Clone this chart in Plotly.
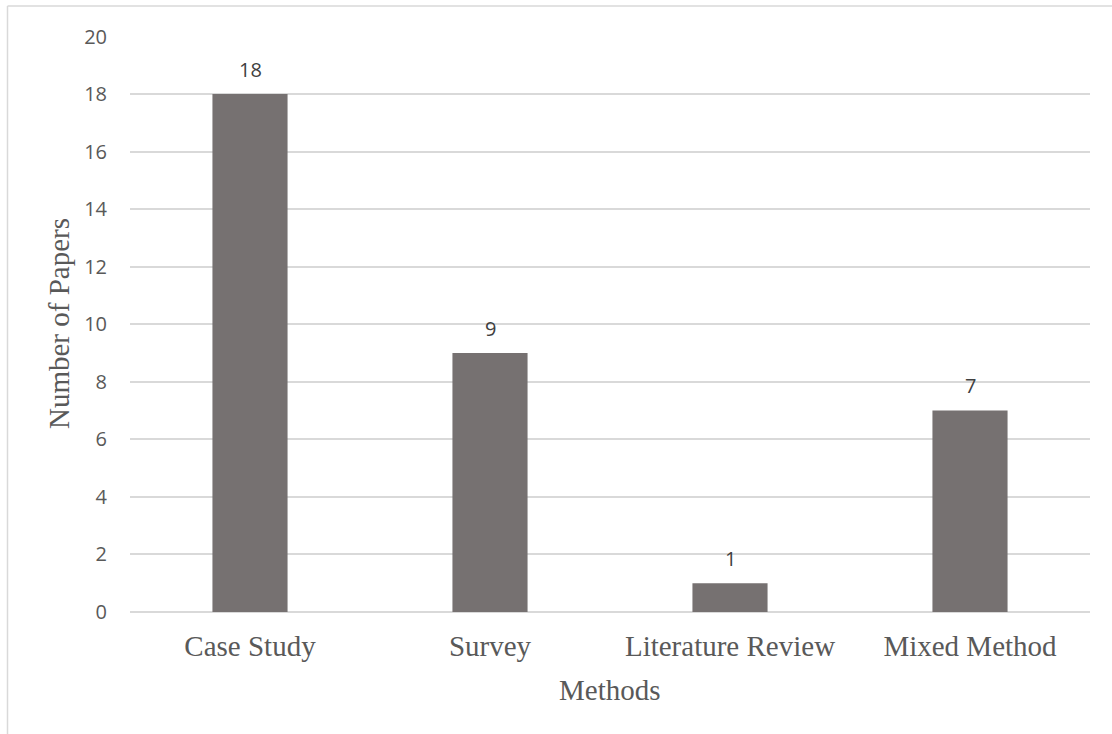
import plotly.graph_objects as go

methods = ["Case Study", "Survey", "Literature Review", "Mixed Method"]
papers = [18, 9, 1, 7]
y_ticks = list(range(0, 21, 2))

W, H = 1112, 734
L, R, T, B = 130, 22, 36, 122
pw, ph = W - L - R, H - T - B

SERIF = "Liberation Serif"
SANS = "Open Sans"
GREY_TXT = "#595959"
GRID = "#d9d9d9"


def px_x(x):
    return (x - L) / pw


def px_y(y):
    return (H - B - y) / ph


fig = go.Figure()
fig.add_trace(go.Bar(
    x=methods,
    y=papers,
    marker=dict(color="#767171", line=dict(width=0)),
    width=0.313,
    hoverinfo="x+y",
))

# value labels above each bar
for m, v in zip(methods, papers):
    fig.add_annotation(x=m, y=v, xref="x", yref="y", text=str(v),
                       showarrow=False, yshift=25, yanchor="middle",
                       font=dict(family=SANS, size=20, color="#404040"))

# axis titles
fig.add_annotation(xref="paper", yref="paper", x=px_x(59), y=px_y(324),
                   text="Number of Papers", textangle=-90, showarrow=False,
                   xanchor="center", yanchor="middle",
                   font=dict(family=SERIF, size=29, color=GREY_TXT))
fig.add_annotation(xref="paper", yref="paper", x=0.5, y=px_y(690),
                   text="Methods", showarrow=False,
                   xanchor="center", yanchor="middle",
                   font=dict(family=SERIF, size=29, color=GREY_TXT))

# chart-area frame (left and top edges)
frame = dict(type="line", xref="paper", yref="paper",
             line=dict(color=GRID, width=1.5), layer="below")
fig.add_shape(x0=px_x(7.5), x1=px_x(7.5), y0=px_y(6), y1=px_y(H + 5), **frame)
fig.add_shape(x0=px_x(7.5), x1=px_x(W + 5), y0=px_y(6), y1=px_y(6), **frame)

fig.update_layout(
    width=W, height=H,
    margin=dict(l=L, r=R, t=T, b=B, pad=0),
    paper_bgcolor="white",
    plot_bgcolor="white",
    showlegend=False,
    xaxis=dict(
        tickfont=dict(family=SERIF, size=29, color=GREY_TXT),
        showgrid=False, showline=False, zeroline=False,
        ticks="outside", ticklen=8, tickcolor="rgba(0,0,0,0)",
    ),
    yaxis=dict(
        range=[0, 20.02],
        tickvals=y_ticks,
        tickfont=dict(family=SANS, size=20, color=GREY_TXT),
        gridcolor=GRID, gridwidth=1.5,
        showline=False, zeroline=True, zerolinecolor=GRID, zerolinewidth=1.5,
        ticks="outside", ticklen=18, tickcolor="rgba(0,0,0,0)",
    ),
)

fig.write_html("out.html")
